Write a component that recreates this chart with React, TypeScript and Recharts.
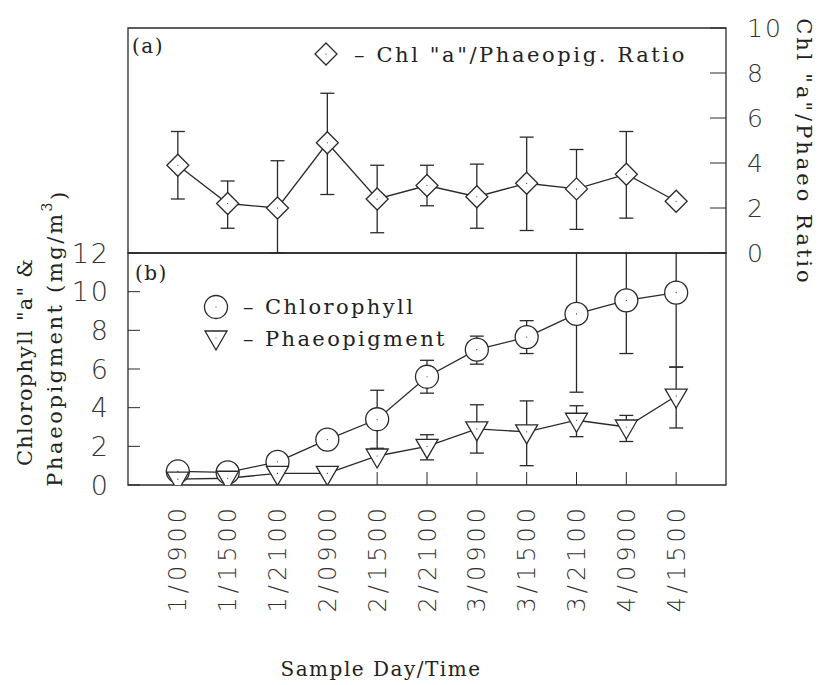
import { LineChart, Line, XAxis, YAxis, ErrorBar, ReferenceArea } from 'recharts'

const categories = ['1/0900', '1/1500', '1/2100', '2/0900', '2/1500', '2/2100', '3/0900', '3/1500', '3/2100', '4/0900', '4/1500']

// panel (a): Chl "a" / Phaeopigment ratio, with error bar bounds
const ratio = [3.9, 2.2, 2.0, 4.9, 2.4, 3.0, 2.5, 3.1, 2.85, 3.5, 2.3]
const ratioHigh = [5.4, 3.2, 4.1, 7.1, 3.9, 3.9, 3.95, 5.15, 4.6, 5.4, null]
const ratioLow = [2.4, 1.1, 0, 2.6, 0.9, 2.1, 1.1, 1.0, 1.05, 1.55, null]

// panel (b): chlorophyll and phaeopigment (mg/m3)
const chl = [0.7, 0.65, 1.2, 2.35, 3.4, 5.6, 7.0, 7.65, 8.85, 9.55, 9.95]
const chlHigh = [null, null, null, null, 4.9, 6.45, 7.7, 8.5, 12.9, 12.3, 13.8]
const chlLow = [null, null, null, null, 1.9, 4.75, 6.25, 6.8, 4.8, 6.8, 6.1]
const phaeo = [0.3, 0.35, 0.6, 0.6, 1.5, 2.0, 2.9, 2.75, 3.35, 3.0, 4.6]
const phaeoHigh = [null, null, null, null, null, 2.6, 4.15, 4.35, 4.1, 3.6, 6.1]
const phaeoLow = [null, null, null, null, null, 1.3, 1.65, 1.0, 2.5, 2.25, 2.95]

const ratioTicks = [0, 2, 4, 6, 8, 10]
const pigTicks = [0, 2, 4, 6, 8, 10, 12]
const xTicks = categories.map((_, i) => i + 1)

const INK = '#2a2a2a'
const SERIF = '"DejaVu Serif", serif'
const SANS = '"DejaVu Sans", sans-serif'

const err = (v: number, hi: number | null, lo: number | null) =>
  hi == null || lo == null ? undefined : [v - lo, hi - v]

const topData = categories.map((c, i) => ({
  idx: i + 1,
  name: c,
  ratio: ratio[i],
  ratioErr: err(ratio[i], ratioHigh[i], ratioLow[i]),
}))

const bottomData = categories.map((c, i) => ({
  idx: i + 1,
  name: c,
  chl: chl[i],
  chlErr: err(chl[i], chlHigh[i], chlLow[i]),
  phaeo: phaeo[i],
  phaeoErr: err(phaeo[i], phaeoHigh[i], phaeoLow[i]),
}))

function Diamond({ cx, cy }: any) {
  if (cx == null || cy == null) return null
  return (
    <g>
      <path d={`M${cx},${cy - 11}L${cx + 11},${cy}L${cx},${cy + 11}L${cx - 11},${cy}Z`} fill="#fff" stroke={INK} strokeWidth={1.3} />
      <circle cx={cx} cy={cy} r={0.6} fill={INK} />
    </g>
  )
}

function Circle({ cx, cy }: any) {
  if (cx == null || cy == null) return null
  return (
    <g>
      <circle cx={cx} cy={cy} r={11.5} fill="#fff" stroke={INK} strokeWidth={1.3} />
      <circle cx={cx} cy={cy} r={0.6} fill={INK} />
    </g>
  )
}

function Triangle({ cx, cy }: any) {
  if (cx == null || cy == null) return null
  return (
    <g>
      <path d={`M${cx - 11},${cy - 7}L${cx + 11},${cy - 7}L${cx},${cy + 12}Z`} fill="#fff" stroke={INK} strokeWidth={1.3} />
      <circle cx={cx} cy={cy} r={0.6} fill={INK} />
    </g>
  )
}

function XTick({ x, y, payload }: any) {
  const label = categories[payload.value - 1]
  return (
    <text
      x={x}
      y={y}
      dy="0.36em"
      transform={`rotate(-90, ${x}, ${y})`}
      textAnchor="end"
      fontFamily={SANS}
      fontWeight={200}
      fontSize={24}
      letterSpacing={4}
      fill="#333"
    >
      {label}
    </text>
  )
}

export default function App() {
  return (
    <div style={{ position: 'absolute', left: 0, top: 0, width: 822, height: 685, background: '#fff', overflow: 'hidden' }}>
      <div style={{ position: 'absolute', left: 0, top: 0 }}>
        <LineChart width={822} height={300} data={topData} margin={{ top: 28, right: 36, left: 128, bottom: 0 }}>
          <XAxis
            xAxisId="a"
            dataKey="idx"
            type="number"
            domain={[0, 12]}
            ticks={xTicks}
            tick={false}
            tickSize={-18}
            height={47}
            axisLine={false}
            stroke={INK}
          />
          <YAxis
            yAxisId="a"
            orientation="right"
            type="number"
            domain={[0, 10]}
            ticks={ratioTicks}
            width={60}
            tickSize={-16}
            tickMargin={37}
            axisLine={false}
            stroke={INK}
            tick={{ fontSize: 25, fontFamily: SANS, fontWeight: 200, fill: '#333', letterSpacing: 2 }}
          />
          <ReferenceArea xAxisId="a" yAxisId="a" x1={0} x2={12} y1={0} y2={10} fill="none" stroke={INK} strokeWidth={1.3} />
          <Line
            xAxisId="a"
            yAxisId="a"
            dataKey="ratio"
            stroke={INK}
            strokeWidth={1.3}
            dot={<Diamond />}
            isAnimationActive={false}
          >
            <ErrorBar dataKey="ratioErr" direction="y" width={7} stroke={INK} strokeWidth={1.3} />
          </Line>
        </LineChart>
      </div>
      {/* panel (b): the area above its plot box is cut away so the long error bars stop at the top edge */}
      <div
        style={{
          position: 'absolute',
          left: 0,
          top: 0,
          clipPath: 'polygon(0 0, 128px 0, 128px 252px, 727px 252px, 727px 0, 822px 0, 822px 685px, 0 685px)',
        }}
      >
        <LineChart width={822} height={685} data={bottomData} margin={{ top: 240, right: 96, left: 60, bottom: 0 }}>
          <XAxis
            xAxisId="top"
            orientation="top"
            dataKey="idx"
            type="number"
            domain={[0, 12]}
            ticks={xTicks}
            tick={false}
            tickSize={-13}
            height={13}
            axisLine={false}
            stroke={INK}
          />
          <XAxis
            xAxisId="b"
            dataKey="idx"
            type="number"
            domain={[0, 12]}
            ticks={xTicks}
            tick={<XTick />}
            tickSize={-13}
            tickMargin={32}
            height={200}
            axisLine={false}
            stroke={INK}
          />
          <YAxis
            yAxisId="b"
            type="number"
            domain={[0, 12]}
            allowDataOverflow
            ticks={pigTicks}
            width={68}
            tickSize={-12}
            tickMargin={30}
            axisLine={false}
            stroke={INK}
            tick={{ fontSize: 27, fontFamily: SANS, fontWeight: 200, fill: '#333', letterSpacing: 2 }}
          />
          <ReferenceArea xAxisId="b" yAxisId="b" x1={0} x2={12} y1={0} y2={12} fill="none" stroke={INK} strokeWidth={1.3} />
          <Line xAxisId="b" yAxisId="b" dataKey="chl" stroke={INK} strokeWidth={1.3} dot={<Circle />} isAnimationActive={false}>
            <ErrorBar dataKey="chlErr" direction="y" width={7} stroke={INK} strokeWidth={1.3} />
          </Line>
          <Line xAxisId="b" yAxisId="b" dataKey="phaeo" stroke={INK} strokeWidth={1.3} dot={<Triangle />} isAnimationActive={false}>
            <ErrorBar dataKey="phaeoErr" direction="y" width={7} stroke={INK} strokeWidth={1.3} />
          </Line>
        </LineChart>
      </div>
      <svg width={822} height={685} style={{ position: 'absolute', left: 0, top: 0, pointerEvents: 'none' }}>
        <g fontFamily={SERIF} fill="#222" fontSize={20} letterSpacing={1.5}>
          <text x={132} y={53}>(a)</text>
          <Diamond cx={326} cy={54} />
          <text x={354} y={62} fontSize={21} letterSpacing={2.6}>{'–  Chl "a"/Phaeopig. Ratio'}</text>
          <text x={135} y={280}>(b)</text>
          <Circle cx={216} cy={307} />
          <text x={243} y={314} fontSize={21} letterSpacing={2.4}>{'–  Chlorophyll'}</text>
          <Triangle cx={216} cy={338} />
          <text x={243} y={346} fontSize={21} letterSpacing={2.4}>{'–  Phaeopigment'}</text>
          <text x={381} y={676} textAnchor="middle" fontSize={20}>Sample Day/Time</text>
          <text x={805} y={152} dy="0.36em" textAnchor="middle" transform="rotate(90, 805, 152)" fontSize={21} letterSpacing={3}>
            {'Chl "a"/Phaeo Ratio'}
          </text>
          <text x={24} y={362} dy="0.36em" textAnchor="middle" transform="rotate(-90, 24, 362)" fontSize={21} letterSpacing={1.2}>
            {'Chlorophyll "a" &'}
          </text>
          <text x={54} y={338} dy="0.36em" textAnchor="middle" transform="rotate(-90, 54, 338)" fontSize={21} letterSpacing={2.6}>
            Phaeopigment (mg/m<tspan dy="-0.7em" fontSize={14}>3</tspan>
            <tspan dy="0.7em">)</tspan>
          </text>
        </g>
      </svg>
    </div>
  )
}
